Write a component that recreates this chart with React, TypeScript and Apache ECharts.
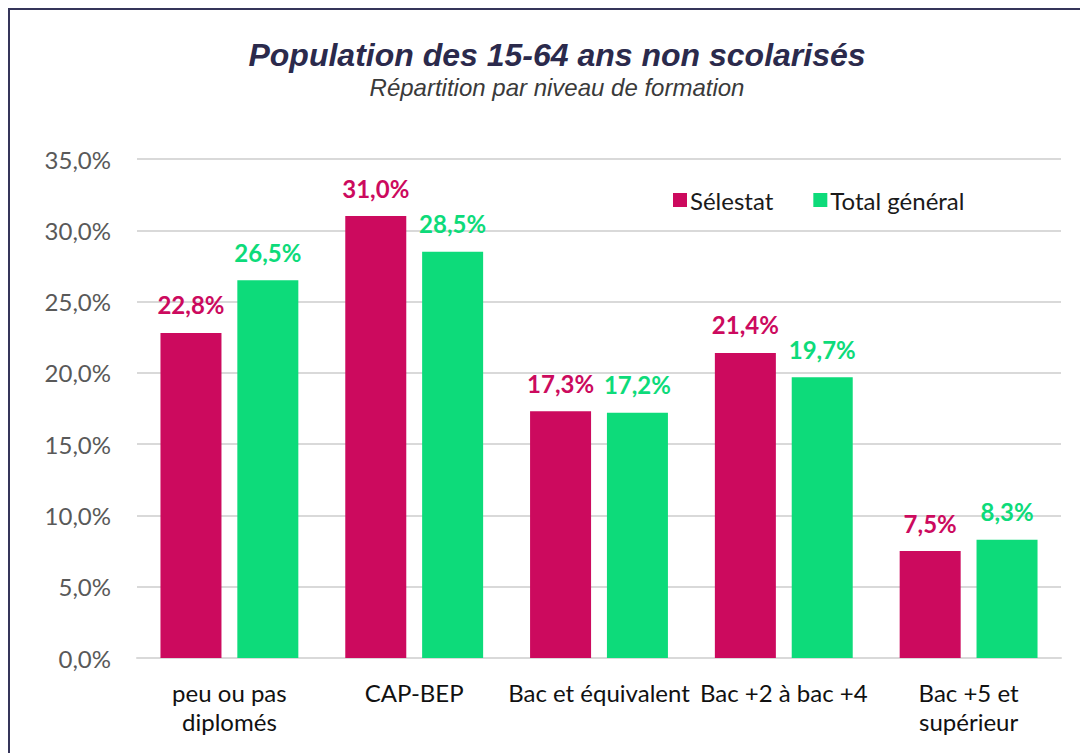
import React, { useEffect, useRef } from "react";
import * as echarts from "echarts";

const categories = [
  "peu ou pas\ndiplomés",
  "CAP-BEP",
  "Bac et équivalent",
  "Bac +2 à bac +4",
  "Bac +5 et\nsupérieur",
];
const selestat = [22.8, 31.0, 17.3, 21.4, 7.5];
const totalGeneral = [26.5, 28.5, 17.2, 19.7, 8.3];
const seriesNames = ["Sélestat", "Total général"];

const MAGENTA = "#CC0A5E";
const GREEN = "#0DDB7A";
const FONT = "Lato, 'Open Sans', sans-serif";

const fmt = (v: number) => v.toFixed(1).replace(".", ",") + "%";

export default function App() {
  const ref = useRef<HTMLDivElement>(null);
  useEffect(() => {
    if (!ref.current) return;
    const chart = echarts.init(ref.current, undefined, { renderer: "svg" });
    chart.setOption({
      animation: false,
      backgroundColor: "#ffffff",
      graphic: [
        {
          type: "text",
          x: 547,
          y: 45,
          style: {
            text: "Population des 15-64 ans non scolarisés",
            fontFamily: "'Liberation Sans', Arial, sans-serif",
            fontSize: 32,
            fontWeight: "bold",
            fontStyle: "italic",
            fill: "#2B2A4C",
            textAlign: "center",
            textVerticalAlign: "middle",
          },
        },
        {
          type: "text",
          x: 547,
          y: 77,
          style: {
            text: "Répartition par niveau de formation",
            fontFamily: "'Liberation Sans', Arial, sans-serif",
            fontSize: 24,
            fontStyle: "italic",
            fill: "#3A3A3A",
            textAlign: "center",
            textVerticalAlign: "middle",
          },
        },
      ],
      legend: {
        data: seriesNames,
        left: 658,
        top: 173,
        itemWidth: 14,
        itemHeight: 14,
        itemGap: 40,
        icon: "rect",
        textStyle: { fontFamily: FONT, fontSize: 24, color: "#1A1A1A", padding: [0, 0, 0, -2] },
      },
      grid: { left: 127, right: 27, top: 149, bottom: 95, containLabel: false },
      xAxis: {
        type: "category",
        data: categories,
        axisLine: { lineStyle: { color: "#D9D9D9", width: 2 } },
        axisTick: { show: false },
        axisLabel: {
          fontFamily: FONT,
          fontSize: 24,
          color: "#111111",
          margin: 20,
          lineHeight: 29,
          interval: 0,
        },
      },
      yAxis: {
        type: "value",
        min: 0,
        max: 35,
        interval: 5,
        axisLine: { show: false },
        axisTick: { show: false },
        splitLine: { lineStyle: { color: "#D9D9D9", width: 2 } },
        axisLabel: {
          fontFamily: FONT,
          fontSize: 24,
          color: "#595959",
          margin: 26,
          formatter: (v: number) => fmt(v),
        },
      },
      series: [
        {
          name: seriesNames[0],
          type: "bar",
          data: selestat,
          barWidth: 61,
          barGap: "26%",
          itemStyle: { color: MAGENTA },
          label: {
            show: true,
            position: "top",
            distance: 16,
            fontFamily: FONT,
            fontSize: 24,
            fontWeight: "bold",
            color: MAGENTA,
            formatter: (p: any) => fmt(p.value),
          },
        },
        {
          name: seriesNames[1],
          type: "bar",
          data: totalGeneral,
          barWidth: 61,
          itemStyle: { color: GREEN },
          label: {
            show: true,
            position: "top",
            distance: 16,
            fontFamily: FONT,
            fontSize: 24,
            fontWeight: "bold",
            color: GREEN,
            formatter: (p: any) => fmt(p.value),
          },
        },
      ],
    });
    return () => chart.dispose();
  }, []);
  return (
    <div
      style={{
        width: 1078,
        height: 743,
        borderTop: "2px solid #35355A",
        borderLeft: "2px solid #35355A",
        overflow: "hidden",
      }}
    >
      <div ref={ref} style={{ width: 1078, height: 743 }} />
    </div>
  );
}
